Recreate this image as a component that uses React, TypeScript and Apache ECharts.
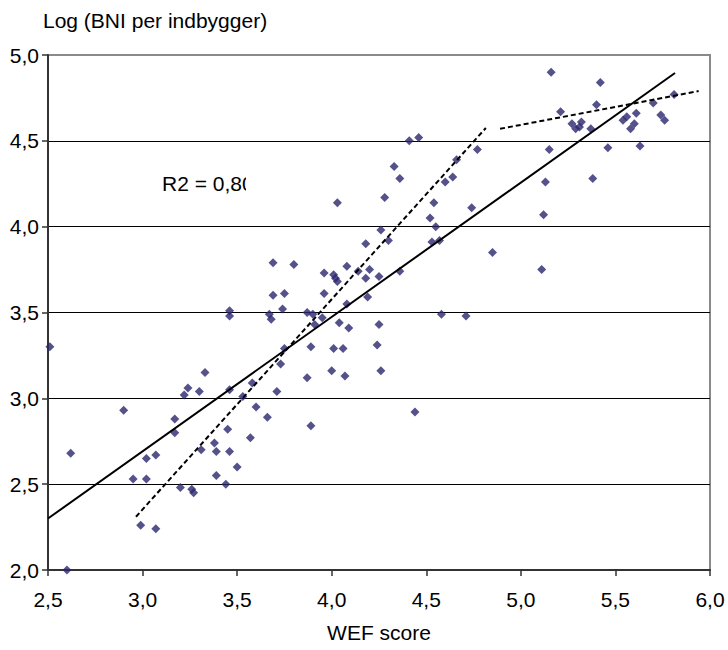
import React, { useEffect, useRef } from "react";
import * as echarts from "echarts";

// WEF score (x) and Log(BNI per indbygger) (y), same order
const wefScore = [
  2.51, 2.62, 2.60, 2.90, 2.95, 2.99, 3.02, 3.02, 3.07, 3.07,
  3.17, 3.17, 3.20, 3.22, 3.24, 3.26, 3.27, 3.30, 3.31, 3.33,
  3.38, 3.39, 3.39, 3.44, 3.45, 3.46, 3.46, 3.46, 3.46, 3.50,
  3.53, 3.57, 3.58, 3.60, 3.66, 3.67, 3.68, 3.69, 3.69, 3.71,
  3.73, 3.74, 3.75, 3.75, 3.80, 3.87, 3.87, 3.89, 3.89, 3.90,
  3.91, 3.95, 3.96, 3.96, 4.00, 4.01, 4.02, 4.03, 4.01, 4.03,
  4.04, 4.06, 4.07, 4.08, 4.08, 4.09, 4.14, 4.18, 4.18, 4.19,
  4.20, 4.24, 4.25, 4.25, 4.26, 4.26, 4.28, 4.30, 4.33, 4.36,
  4.36, 4.41, 4.44, 4.46, 4.52, 4.53, 4.54, 4.55, 4.57, 4.58,
  4.60, 4.64, 4.66, 4.71, 4.74, 4.77, 4.85, 5.11, 5.12, 5.13,
  5.15, 5.16, 5.21, 5.27, 5.29, 5.31, 5.32, 5.37, 5.38, 5.40,
  5.42, 5.46, 5.54, 5.56, 5.58, 5.60, 5.61, 5.63, 5.70, 5.74,
  5.76, 5.81,
];
const logBni = [
  3.30, 2.68, 2.00, 2.93, 2.53, 2.26, 2.53, 2.65, 2.67, 2.24,
  2.88, 2.80, 2.48, 3.02, 3.06, 2.47, 2.45, 3.04, 2.70, 3.15,
  2.74, 2.69, 2.55, 2.50, 2.82, 2.69, 3.51, 3.48, 3.05, 2.60,
  3.01, 2.77, 3.09, 2.95, 2.89, 3.49, 3.46, 3.79, 3.60, 3.04,
  3.20, 3.52, 3.61, 3.29, 3.78, 3.50, 3.12, 3.30, 2.84, 3.49,
  3.43, 3.47, 3.73, 3.61, 3.16, 3.72, 3.70, 3.68, 3.29, 4.14,
  3.44, 3.29, 3.13, 3.77, 3.55, 3.41, 3.74, 3.90, 3.70, 3.59,
  3.75, 3.31, 3.71, 3.43, 3.98, 3.16, 4.17, 3.92, 4.35, 4.28,
  3.74, 4.50, 2.92, 4.52, 4.05, 3.91, 4.14, 4.00, 3.92, 3.49,
  4.26, 4.29, 4.39, 3.48, 4.11, 4.45, 3.85, 3.75, 4.07, 4.26,
  4.45, 4.90, 4.67, 4.60, 4.57, 4.58, 4.61, 4.57, 4.28, 4.71,
  4.84, 4.46, 4.62, 4.64, 4.57, 4.60, 4.66, 4.47, 4.72, 4.65,
  4.62, 4.77,
];

// Trend lines: [x, y] end points
const trendAll = [[2.5, 2.30], [5.815, 4.895]];
const trendLow = [[2.965, 2.31], [4.815, 4.575]];
const trendHigh = [[4.89, 4.57], [5.94, 4.79]];

const yTitle = "Log (BNI per indbygger)";
const xTitle = "WEF score";
const r2Label = "R2 = 0,80";

const FONT = "'Liberation Sans', Arial, sans-serif";
const fmt = (v: number) => v.toFixed(1).replace(".", ",");

export default function App() {
  const ref = useRef<HTMLDivElement>(null);
  useEffect(() => {
    if (!ref.current) return;
    const chart = echarts.init(ref.current, undefined, { renderer: "svg" });
    const points = wefScore.map((x, i) => [x, logBni[i]]);
    const lineSeries = (data: number[][], dashed: boolean) => ({
      type: "line",
      data,
      symbol: "none",
      silent: true,
      z: 3,
      lineStyle: { color: "#000", width: 2, type: dashed ? [5, 3] : "solid" },
    });
    chart.setOption({
      animation: false,
      backgroundColor: "#fff",
      textStyle: { fontFamily: FONT },
      grid: {
        left: 48,
        top: 55,
        right: 18,
        bottom: 80,
        show: true,
        borderColor: "#8a8a8a",
        borderWidth: 2,
        backgroundColor: "#fff",
      },
      xAxis: {
        type: "value",
        min: 2.5,
        max: 6.0,
        interval: 0.5,
        name: xTitle,
        nameLocation: "middle",
        nameGap: 52,
        nameTextStyle: { fontSize: 21, color: "#000", fontFamily: FONT },
        axisLine: { show: true, onZero: false, lineStyle: { color: "#333", width: 2 } },
        axisTick: { show: true, inside: false, length: 6, lineStyle: { color: "#333", width: 1.5 } },
        axisLabel: { formatter: fmt, fontSize: 21, color: "#000", margin: 19, fontFamily: FONT },
        splitLine: { show: false },
      },
      yAxis: {
        type: "value",
        min: 2.0,
        max: 5.0,
        interval: 0.5,
        axisLine: { show: true, onZero: false, lineStyle: { color: "#333", width: 2 } },
        axisTick: { show: true, inside: false, length: 6, lineStyle: { color: "#333", width: 1.5 } },
        axisLabel: { formatter: fmt, fontSize: 21, color: "#000", margin: 9, fontFamily: FONT },
        splitLine: {
          show: true,
          lineStyle: {
            color: ["#000", "#000", "#000", "#000", "#000", "#000", "#8a8a8a"],
            width: 1,
          },
        },
      },
      graphic: [
        {
          type: "text",
          left: 43,
          top: 10,
          style: { text: yTitle, fontSize: 21, fill: "#000", font: `21px ${FONT}` },
        },
        {
          type: "text",
          x: 162,
          y: 183,
          z: 10,
          style: {
            text: r2Label,
            fill: "#000",
            font: `21px ${FONT}`,
            verticalAlign: "middle",
            align: "left",
          },
        },
        {
          type: "rect",
          z: 11,
          shape: { x: 246, y: 168, width: 20, height: 30 },
          style: { fill: "#fff" },
        },
      ],
      series: [
        {
          type: "scatter",
          data: points,
          symbol: "diamond",
          symbolSize: 9,
          itemStyle: { color: "#2A276E" },
          z: 2,
        },
        lineSeries(trendAll, false),
        lineSeries(trendLow, true),
        lineSeries(trendHigh, true),
      ],
    });
    return () => chart.dispose();
  }, []);
  return (
    <div
      ref={ref}
      style={{ position: "fixed", left: 0, top: 0, width: 728, height: 650 }}
    />
  );
}
